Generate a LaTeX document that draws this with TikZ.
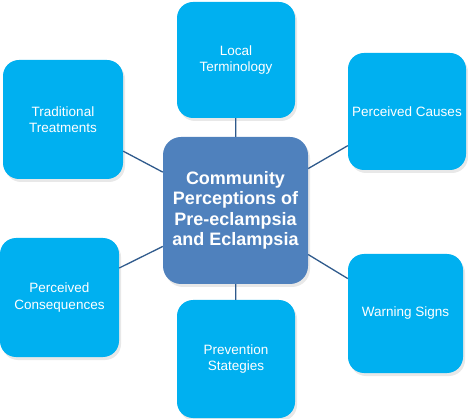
\documentclass[tikz,border=0pt]{standalone}
\usepackage{fontspec}
\setmainfont{Liberation Sans}
\usetikzlibrary{shadows}
\definecolor{outerblue}{HTML}{00B0F0}
\definecolor{centerblue}{HTML}{4F81BD}
\definecolor{linkblue}{HTML}{2F5A8C}
\tikzset{
  outerbox/.style={fill=outerblue, rounded corners=16pt, inner sep=0pt, align=center,
    text=white, font=\fontsize{13.5}{16.5}\selectfont,
    drop shadow={opacity=0.18, shadow xshift=2pt, shadow yshift=-3pt}},
  centerbox/.style={fill=centerblue, rounded corners=18pt, inner sep=0pt, align=center,
    text=white, font=\bfseries\fontsize{18}{20.5}\selectfont,
    minimum width=145pt, minimum height=147pt,
    drop shadow={opacity=0.18, shadow xshift=2pt, shadow yshift=-3pt}},
  link/.style={draw=linkblue, line width=1.3pt}
}
\begin{document}
\begin{tikzpicture}[x=1pt,y=-1pt]
\useasboundingbox (0,0) rectangle (468,419);
\node[centerbox] (cen) at (235.5,210.5) {Community\\Perceptions of\\Pre-eclampsia\\and Eclampsia};
\node[outerbox, minimum width=118pt, minimum height=116pt] (top) at (236,60) {Local\\Terminology};
\node[outerbox, minimum width=120pt, minimum height=119pt] (trad) at (63,119.5) {Traditional\\Treatments};
\node[outerbox, minimum width=118pt, minimum height=117pt] (cause) at (407,111.5) {Perceived Causes};
\node[outerbox, minimum width=119pt, minimum height=119pt] (cons) at (59.5,297.5) {Perceived\\Consequences};
\node[outerbox, minimum width=115pt, minimum height=119pt] (warn) at (405.5,313.5) {Warning Signs};
\node[outerbox, minimum width=118pt, minimum height=118pt] (prev) at (236,359) {Prevention\\Stategies};
\draw[link] (cen) -- (top);
\draw[link] (cen) -- (trad);
\draw[link] (cen) -- (cause);
\draw[link] (cen) -- (cons);
\draw[link] (cen) -- (warn);
\draw[link] (cen) -- (prev);
\end{tikzpicture}
\end{document}
